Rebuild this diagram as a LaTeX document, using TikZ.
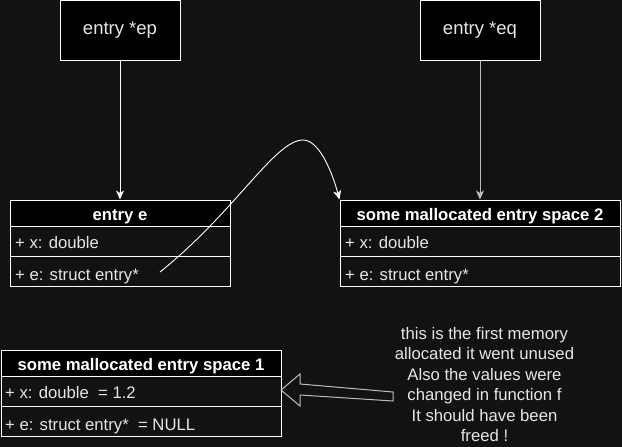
\documentclass[tikz,border=0pt]{standalone}
\usepackage{fontspec}
\setmainfont{Liberation Sans}
\usetikzlibrary{arrows.meta}
\definecolor{bg}{HTML}{121212}
\definecolor{txt}{HTML}{E6E6E6}
\definecolor{gline}{HTML}{BDBDBD}
\tikzset{
  ptrbox/.style={draw=white, line width=1pt, fill=black, minimum width=120pt, minimum height=60pt, inner sep=0pt, text=txt, font=\fontsize{18.5}{22}\selectfont},
  hdr/.style={draw=white, line width=1pt, fill=black, minimum height=26pt, inner sep=0pt},
  hdrtext/.style={text=white, font=\bfseries\fontsize{16.7}{20}\selectfont, inner sep=0pt},
  rowcell/.style={draw=white, line width=1pt, fill=bg, minimum height=30pt, inner sep=0pt},
  rowtext/.style={anchor=west, text=txt, font=\fontsize{16.7}{20}\selectfont, inner sep=0pt},
  conn/.style={line width=1pt, -{Stealth[length=9pt,width=8pt,inset=2.5pt]}},
  note/.style={align=center, text=txt, font=\fontsize{16.7}{20.4}\selectfont, inner sep=0pt}
}
\begin{document}
\begin{tikzpicture}[x=1pt,y=-1pt]
\useasboundingbox (0,0) rectangle (622,447);
\fill[bg] (0,0) rectangle (622,447);

% pointer boxes
\node[ptrbox] (ep) at (120,30) {entry *ep};
\node[ptrbox] (eq) at (480,30) {entry *eq};

% entry e
\node[hdr, minimum width=220pt] (eh) at (120,213) {};
\node[hdrtext] (eht) at (120,216.5) {entry e};
\node[rowcell, minimum width=220pt] (er1) at (120,241) {};
\node[rowcell, minimum width=220pt] (er2) at (120,271) {};
\node[rowtext] (er1t) at (15,242.5) {+ x: double};
\node[rowtext] (er2t) at (15,276.5) {+ e: struct entry*};

% space 2
\node[hdr, minimum width=280pt] (sh) at (480,213) {};
\node[hdrtext] (sht) at (480,216.5) {some mallocated entry space 2};
\node[rowcell, minimum width=280pt] (sr1) at (480,241) {};
\node[rowcell, minimum width=280pt] (sr2) at (480,271) {};
\node[rowtext] (sr1t) at (345,242.5) {+ x: double};
\node[rowtext] (sr2t) at (345,276.5) {+ e: struct entry*};

% space 1
\node[hdr, minimum width=280pt] (ph) at (141,363) {};
\node[hdrtext] (pht) at (141,366.5) {some mallocated entry space 1};
\node[rowcell, minimum width=280pt] (pr1) at (141,391) {};
\node[rowcell, minimum width=280pt] (pr2) at (141,421) {};
\node[rowtext] (pr1t) at (5,392.5) {+ x: double\ \ = 1.2};
\node[rowtext] (pr2t) at (5,426.5) {+ e: struct entry*\ \ = NULL};

% connectors
\draw[conn, white] (ep.south) -- (eh.north);
\draw[conn, gline] (eq.south) -- (sh.north);
\coordinate (cs) at (160,272);
\draw[conn, white, line width=0.9pt] (cs) .. controls (235,212) and (275,140) .. (303,140)
  .. controls (320,140) and (333,175) .. (sh.north west);

% block arrow
\draw[gline, line width=1pt, line join=miter, fill=bg]
  (281,390) -- (300,374) -- (300,384) -- (393,392) -- (393,401) -- (300,395) -- (300,406) -- cycle;

% note
\node[note] (nt) at (484.5,384.5) {this is the first memory\\allocated it went unused\\Also the values were\\changed in function f\\It should have been\\freed !};
\end{tikzpicture}
\end{document}
